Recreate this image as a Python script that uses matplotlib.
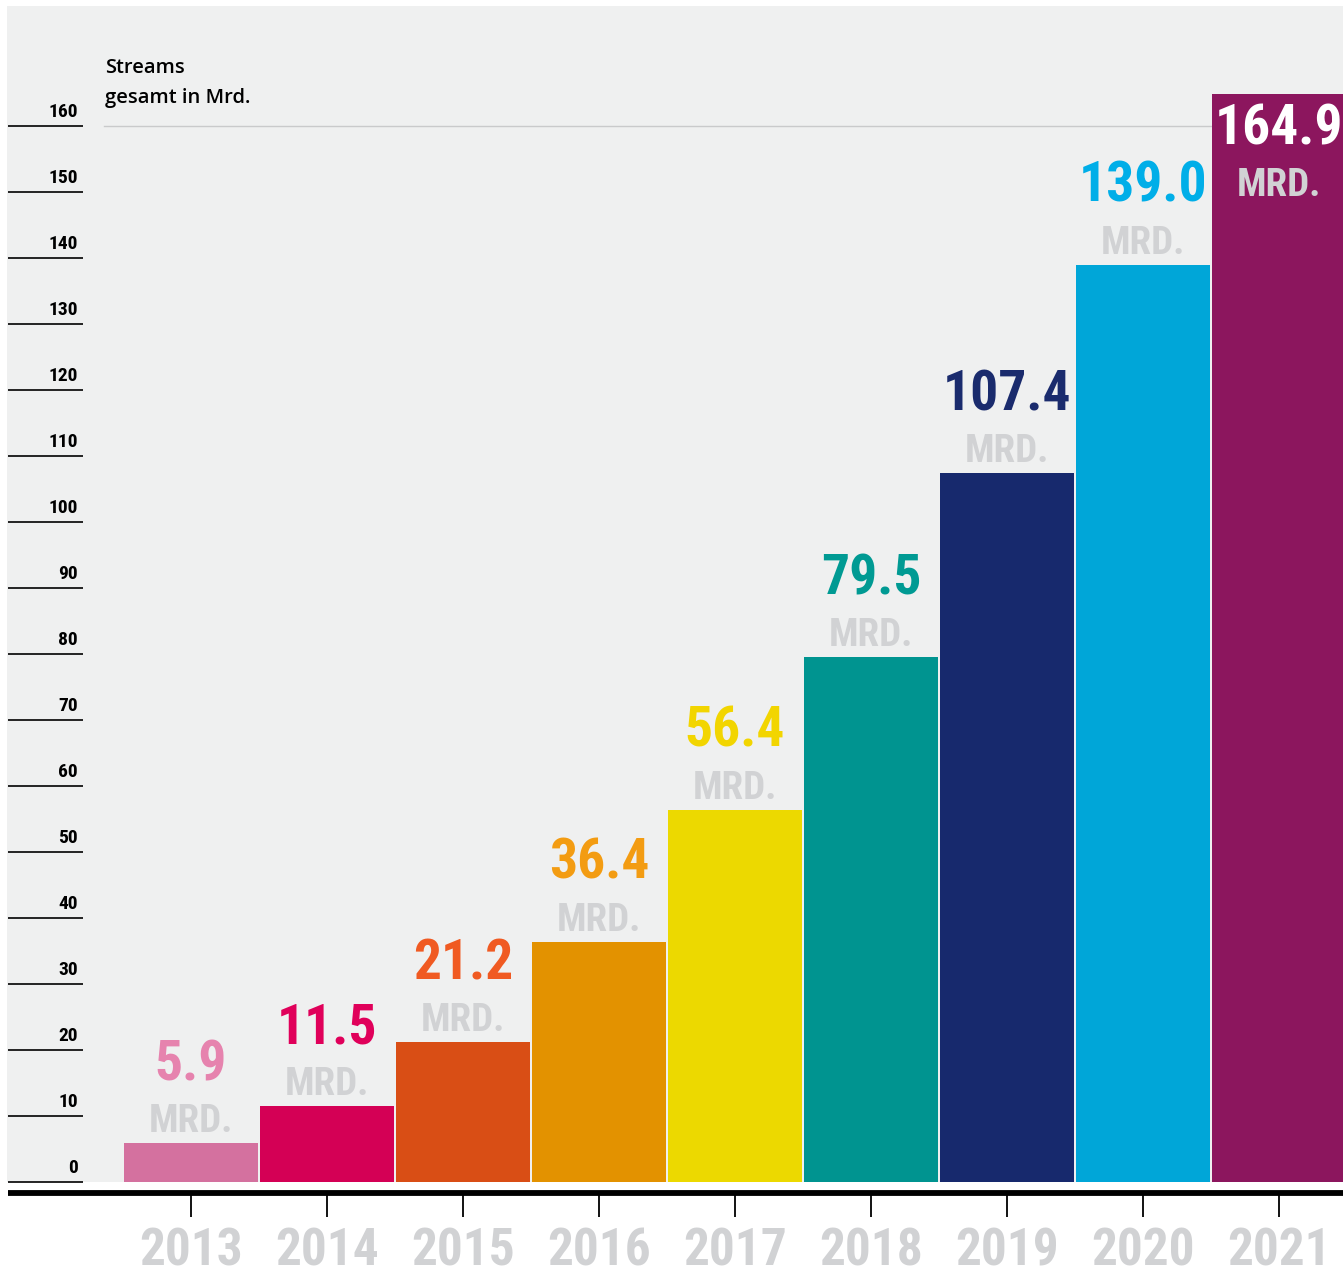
import numpy as np
import matplotlib.pyplot as plt
from matplotlib.transforms import blended_transform_factory

years = ['2013', '2014', '2015', '2016', '2017', '2018', '2019', '2020', '2021']
streams = [5.9, 11.5, 21.2, 36.4, 56.4, 79.5, 107.4, 139.0, 164.9]
bar_colors = ['#d4719f', '#d40055', '#d94e15', '#e39200', '#ecd900',
              '#009490', '#17296d', '#00a6d8', '#8c165e']
label_colors = ['#e683ae', '#e0005a', '#f05a22', '#f39c12', '#f2d500',
                '#009a93', '#1a2b6d', '#00aee8', '#ffffff']
y_ticks = np.arange(0, 170, 10)

W, H = 1343, 1277
PX = 6.6  # pixels per billion streams
COND = ['Roboto Condensed', 'Liberation Sans Narrow', 'Roboto']
GREY = '#d1d2d4'

fig = plt.figure(figsize=(W / 100, H / 100), dpi=100)
ax = fig.add_axes([7 / W, (H - 1182) / H, 1336 / W, 1176 / H])
ax.set_facecolor('#eff0f0')
for s in ax.spines.values():
    s.set_visible(False)
ax.set_xticks([])
ax.set_yticks([])

x = np.arange(len(years))
x0 = -184 / 136
ax.set_xlim(x0, x0 + 1336 / 136)
ax.set_ylim(0, 1176 / PX)

trans = blended_transform_factory(ax.transAxes, ax.transData)

# reference line at 160
ax.plot([97 / 1336, 1], [160, 160], transform=trans, color='#c9cacb',
        lw=1.0, zorder=1)

ax.bar(x, streams, width=134 / 136, color=bar_colors, zorder=2)

# short tick rules on the left with their values
for v in y_ticks:
    ax.plot([1 / 1336, 76 / 1336], [v, v], transform=trans, color='black',
            lw=1.2, clip_on=False, solid_capstyle='butt', zorder=3)
    ax.annotate(str(v), (71 / 1336, v), xycoords=trans, xytext=(0, 9),
                textcoords='offset pixels', ha='right', va='baseline',
                fontsize=14, fontweight='bold', family=COND)

# baseline and year ticks below the panel
ax.plot([1 / 1336, 1], [-11 / PX, -11 / PX], transform=trans, color='black',
        lw=4.2, clip_on=False, solid_capstyle='butt')
ax.vlines(x, -35 / PX, -13 / PX, color='black', lw=1.3, clip_on=False)

for xi, yr in zip(x, years):
    ax.annotate(yr, (xi, 0), xytext=(0, -83), textcoords='offset pixels',
                ha='center', va='baseline', fontsize=37, fontweight='bold',
                color=GREY, family=COND, annotation_clip=False)

# value labels above the bars, inside the last one
for i, (xi, v) in enumerate(zip(x, streams)):
    inside = i == len(streams) - 1
    dv, dm = (-51, -102) if inside else (63, 11)
    ax.annotate(f'{v:.1f}', (xi, v), xytext=(0, dv), textcoords='offset pixels',
                ha='center', va='baseline', fontsize=40, fontweight='bold',
                color=label_colors[i], family=COND, zorder=4)
    ax.annotate('MRD.', (xi, v), xytext=(0, dm), textcoords='offset pixels',
                ha='center', va='baseline', fontsize=28, fontweight='bold',
                color=GREY, family=COND, zorder=4)

fig.text(105 / W, 1 - 73 / H, 'Streams', ha='left', va='baseline',
         fontsize=14.5, family='Open Sans', fontweight='semibold')
fig.text(105 / W, 1 - 103 / H, 'gesamt in Mrd.', ha='left', va='baseline',
         fontsize=14.5, family='Open Sans', fontweight='semibold')

fig.savefig('out.png', dpi=100, facecolor='white')
